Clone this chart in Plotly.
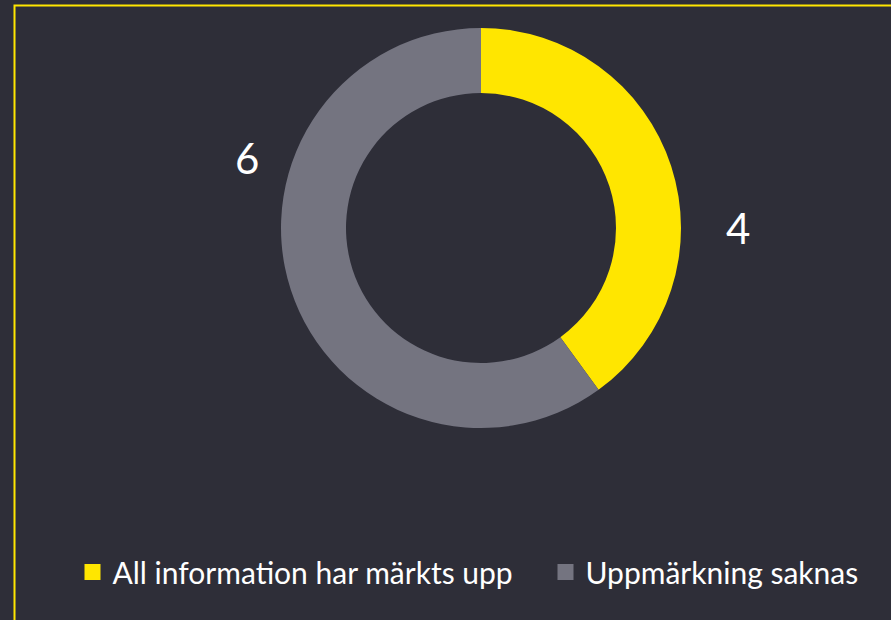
import plotly.graph_objects as go

categories = ["All information har märkts upp", "Uppmärkning saknas"]
values = [4, 6]
colors = ["#FFE600", "#747480"]
label_pos = [(738, 228), (247, 158)]  # pixel positions of the value labels
legend_x = [92.5, 565.5]               # pixel x of each legend swatch centre

W, H = 891, 620
BG = "#2E2E38"

fig = go.Figure()
fig.add_trace(go.Pie(
    labels=categories,
    values=values,
    marker=dict(colors=colors, line=dict(width=0)),
    hole=0.675,
    sort=False,
    direction="clockwise",
    rotation=0,
    textinfo="none",
    hoverinfo="label+value",
    showlegend=False,
    domain=dict(x=[281 / W, 681 / W], y=[1 - 428 / H, 1 - 28 / H]),
))

legend_names = ["legend", "legend2"]
# legend entries (square swatches, no data points)
for name, c, lg in zip(categories, colors, legend_names):
    fig.add_trace(go.Scatter(
        x=[None], y=[None], mode="markers", name=name,
        marker=dict(symbol="square", size=16, color=c),
        showlegend=True, hoverinfo="skip", legend=lg,
    ))

for v, (px, py) in zip(values, label_pos):
    fig.add_annotation(
        x=px / W, y=1 - py / H, xref="paper", yref="paper",
        text=str(v), showarrow=False,
        font=dict(family="Lato", size=42, color="#FFFFFF"),
        xanchor="center", yanchor="middle",
    )

fig.add_shape(
    type="rect", xref="paper", yref="paper",
    x0=14.5 / W, x1=1.05, y0=-0.05, y1=1 - 5.5 / H,
    line=dict(color="#FFE600", width=2), fillcolor="rgba(0,0,0,0)",
    layer="below",
)

legend_style = dict(
    orientation="h", xanchor="left", y=1 - 572 / H, yanchor="middle",
    font=dict(family="Lato", size=30, color="#FFFFFF"),
    bgcolor="rgba(0,0,0,0)", itemwidth=30,
    itemclick=False, itemdoubleclick=False,
)

fig.update_layout(
    width=W, height=H,
    margin=dict(l=0, r=0, t=0, b=0),
    paper_bgcolor=BG, plot_bgcolor=BG,
    xaxis=dict(visible=False), yaxis=dict(visible=False),
    showlegend=True,
    legend=dict(x=(legend_x[0] - 20) / W, **legend_style),
    legend2=dict(x=(legend_x[1] - 20) / W, **legend_style),
)

fig.write_html(
    "out.html",
    config={"displayModeBar": False},
    post_script="document.body.style.margin='0';document.body.style.background='#2E2E38';",
)
